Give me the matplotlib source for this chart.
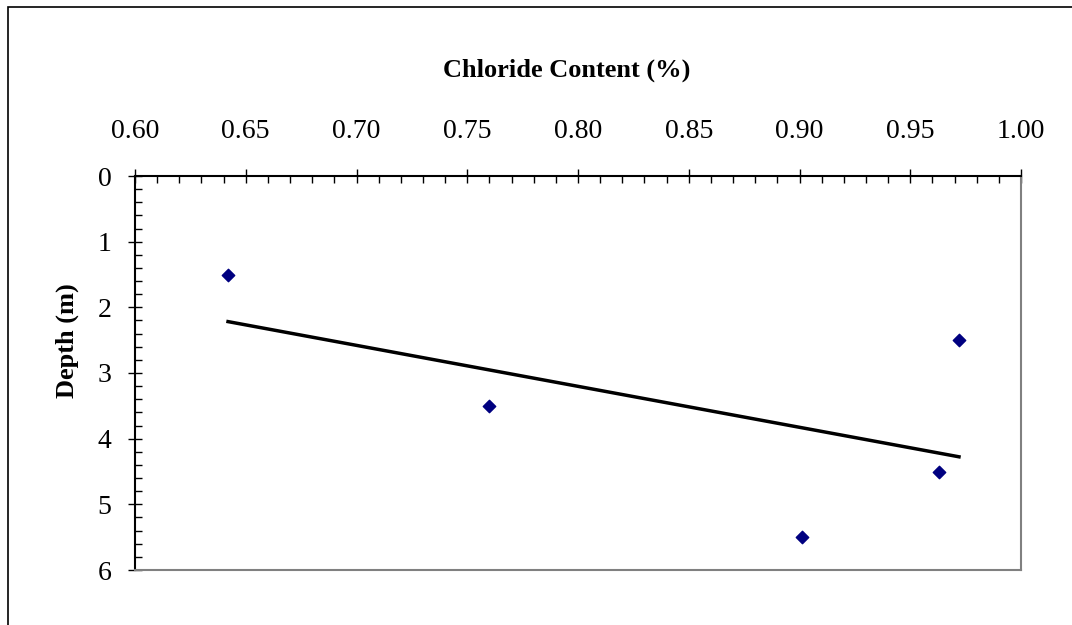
import numpy as np
import matplotlib
matplotlib.use("Agg")
import matplotlib.pyplot as plt
from matplotlib.patches import Rectangle
from matplotlib.ticker import MultipleLocator

plt.rcParams['font.family'] = ['Liberation Serif', 'DejaVu Serif']

# valores
cloruro = [0.642, 0.760, 0.901, 0.963, 0.972]
profundidad = [1.5, 3.5, 5.5, 4.5, 2.5]

fig = plt.figure(figsize=(10.72, 6.25), dpi=100)
ax = fig.add_axes([135/1072, 1-570/625, 886/1072, 394/625])

ax.scatter(cloruro, profundidad, marker='D', s=40, color='#000080', zorder=3)

# linea de tendencia (regresion lineal)
m, b = np.polyfit(cloruro, profundidad, 1)
xt = np.array([min(cloruro), max(cloruro)])
ax.plot(xt, m*xt + b, color='black', lw=2.5)

ax.set_xlim(0.60, 1.00)
ax.set_ylim(6, 0)
ax.xaxis.tick_top()
ax.xaxis.set_major_locator(MultipleLocator(0.05))
ax.xaxis.set_minor_locator(MultipleLocator(0.01))
ax.yaxis.set_major_locator(MultipleLocator(1))
ax.yaxis.set_minor_locator(MultipleLocator(0.2))
ax.xaxis.set_major_formatter(plt.FormatStrFormatter('%.2f'))

ax.tick_params(which='major', direction='inout', length=10, width=1, labelsize=20)
ax.tick_params(axis='x', which='major', pad=18)
ax.tick_params(axis='y', which='major', pad=12)
ax.tick_params(which='minor', direction='in', length=5, width=1)
ax.tick_params(axis='x', which='both', top=True, bottom=False)

ax.spines['top'].set_color('black')
ax.spines['left'].set_color('black')
ax.spines['right'].set_color('#808080')
ax.spines['bottom'].set_color('#808080')
for s in ax.spines.values():
    s.set_linewidth(1.5)

fig.text(567/1072, 1-70/625, "Chloride Content (%)", fontsize=19, fontweight='bold',
         ha='center', va='center')
fig.text(67/1072, 1-341/625, "Depth (m)", fontsize=19, fontweight='bold',
         ha='center', va='center', rotation=90)

# marco exterior
fig.add_artist(Rectangle((8/1072, -0.1), 1.2, 1.1 - 7/625, transform=fig.transFigure,
                         fill=False, edgecolor='black', lw=1.2))

plt.savefig("out.png", dpi=100)
